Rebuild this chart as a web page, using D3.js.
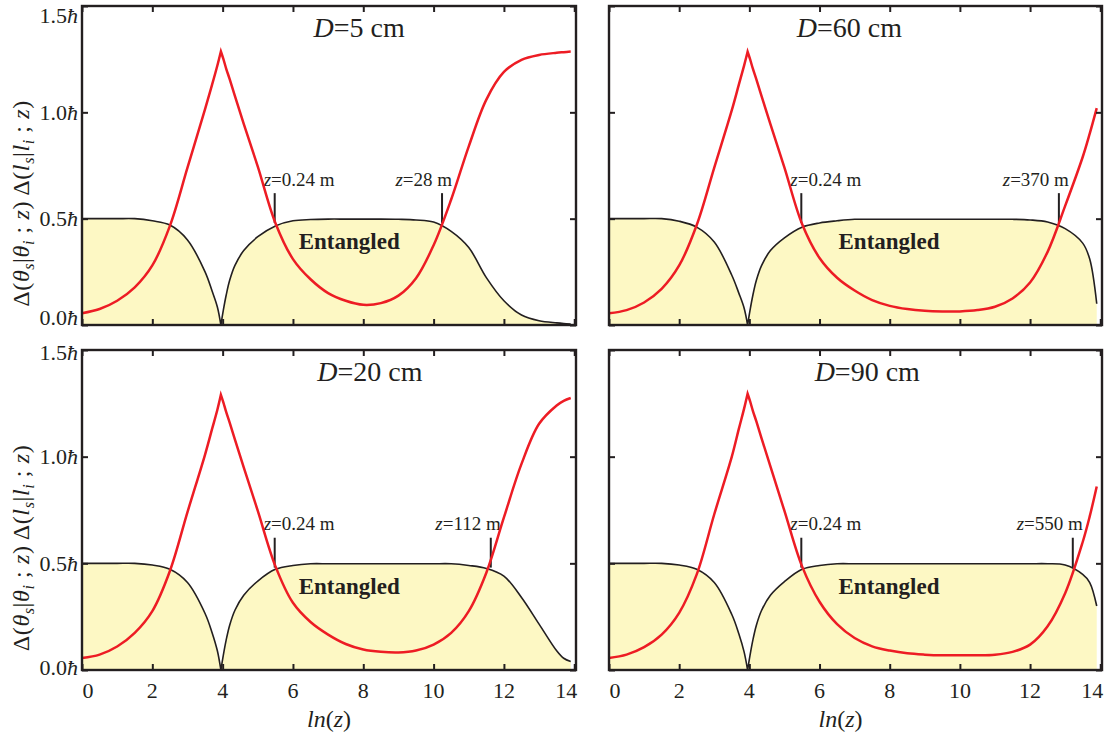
<!DOCTYPE html>
<html>
<head>
<meta charset="utf-8">
<script src="https://cdn.jsdelivr.net/npm/d3@7"></script>
<style>
  body { margin: 0; background: #fff; }
</style>
</head>
<body>
<div class="canvas"></div>
<script>
const svgWidth = 1107;
const svgHeight = 738;

// sample points along ln(z) (z in mm); 3.95 is the cusp
const lnz = [0, 0.5, 1, 1.5, 2, 2.5, 3, 3.5, 3.7, 3.85, 3.95, 4.02, 4.1, 4.2, 4.35, 4.6,
  5, 5.5, 6, 6.5, 7, 7.5, 8, 8.5, 9, 9.5, 10, 10.5, 11, 11.5, 12, 12.5, 13, 13.5, 13.7, 13.9];

// red: Delta(theta_s|theta_i; z), black (filled): Delta(l_s|l_i; z)
const red5 = [0.055, 0.075, 0.114, 0.177, 0.28, 0.466, 0.74, 1.015, 1.13, 1.22, 1.286,
  1.251, 1.206, 1.156, 1.076, 0.946,
  0.745, 0.48, 0.31, 0.215, 0.15, 0.114, 0.095, 0.103, 0.138, 0.22, 0.375, 0.59, 0.84, 1.06,
  1.19, 1.247, 1.27, 1.28, 1.283, 1.286];
const black5 = [0.5, 0.5, 0.5, 0.5, 0.49, 0.47, 0.40, 0.25, 0.16, 0.085, 0,
  0.07, 0.14, 0.21, 0.28, 0.35,
  0.415, 0.466, 0.49, 0.496, 0.498, 0.498, 0.498, 0.498, 0.497, 0.494, 0.484, 0.44, 0.364, 0.223,
  0.114, 0.047, 0.02, 0.01, 0.007, 0.005];

const red60 = [0.055, 0.07, 0.106, 0.17, 0.28, 0.47, 0.74, 1.01, 1.13, 1.22, 1.285,
  1.25, 1.205, 1.155, 1.075, 0.945,
  0.74, 0.476, 0.315, 0.222, 0.162, 0.117, 0.09, 0.075, 0.067, 0.064, 0.064, 0.07, 0.086, 0.125,
  0.2, 0.344, 0.56, 0.79, 0.9, 1.02];
const black60 = [0.5, 0.5, 0.5, 0.5, 0.488, 0.46, 0.39, 0.234, 0.15, 0.08, 0,
  0.07, 0.14, 0.21, 0.28, 0.35,
  0.41, 0.46, 0.48, 0.49, 0.497, 0.497, 0.497, 0.497, 0.497, 0.497, 0.497, 0.497, 0.497, 0.497,
  0.494, 0.484, 0.453, 0.385, 0.31, 0.1];

const red20 = [0.056, 0.072, 0.11, 0.174, 0.276, 0.464, 0.74, 1.01, 1.13, 1.22, 1.29,
  1.255, 1.21, 1.16, 1.08, 0.95,
  0.746, 0.487, 0.315, 0.225, 0.166, 0.122, 0.096, 0.085, 0.082, 0.091, 0.119, 0.174, 0.276, 0.456,
  0.715, 0.966, 1.154, 1.24, 1.262, 1.275];
const black20 = [0.5, 0.5, 0.5, 0.5, 0.492, 0.472, 0.41, 0.265, 0.175, 0.09, 0,
  0.07, 0.14, 0.21, 0.28, 0.35,
  0.417, 0.472, 0.49, 0.498, 0.498, 0.498, 0.498, 0.498, 0.498, 0.498, 0.498, 0.498, 0.49, 0.476,
  0.44, 0.34, 0.215, 0.09, 0.055, 0.04];

const red90 = [0.056, 0.072, 0.107, 0.166, 0.268, 0.448, 0.73, 1.0, 1.13, 1.225, 1.295,
  1.26, 1.215, 1.165, 1.085, 0.955,
  0.746, 0.487, 0.32, 0.215, 0.15, 0.111, 0.091, 0.078, 0.072, 0.069, 0.069, 0.069, 0.072, 0.085,
  0.119, 0.205, 0.36, 0.6, 0.72, 0.86];
const black90 = [0.5, 0.5, 0.5, 0.5, 0.492, 0.472, 0.41, 0.26, 0.17, 0.085, 0,
  0.07, 0.14, 0.21, 0.28, 0.35,
  0.414, 0.472, 0.49, 0.498, 0.498, 0.498, 0.498, 0.498, 0.498, 0.498, 0.498, 0.498, 0.498, 0.498,
  0.498, 0.498, 0.492, 0.448, 0.41, 0.3];

const diameters = ['5', '60', '20', '90'];      // D in cm
const leftMark = 0.24;                          // z in m
const rightMarks = [28, 370, 112, 550];         // z in m

const xTicks = [0, 2, 4, 6, 8, 10, 12, 14];
const yTicks = [0, 0.5, 1.0, 1.5];
const yTickLabels = ['0.0', '0.5', '1.0', '1.5'];

const xDomain = [0, 14.05];
const yDomain = [0, 1.5];

const fillColor = '#fdf8c4';
const redColor = '#ed1c24';
const inkColor = '#231f20';

const panels = [
  { left: 82, top: 6, right: 576, bottom: 325, red: red5, black: black5, titleAt: 7.88, entAt: 7.6, yLabels: true, xLabels: false, shiftHi: 9, shiftLo: -8 },
  { left: 609, top: 6, right: 1102, bottom: 325, red: red60, black: black60, titleAt: 6.85, entAt: 7.98, yLabels: false, xLabels: false },
  { left: 82, top: 350, right: 576, bottom: 670, red: red20, black: black20, titleAt: 8.19, entAt: 7.6, yLabels: true, xLabels: true, shiftHi: 2, shiftLo: -3 },
  { left: 609, top: 350, right: 1102, bottom: 670, red: red90, black: black90, titleAt: 7.36, entAt: 7.98, yLabels: false, xLabels: true }
];

const svg = d3.select('.canvas')
  .append('svg')
    .attr('width', svgWidth)
    .attr('height', svgHeight)
    .style('font-family', "'Liberation Serif', 'Times New Roman', serif")
    .style('fill', inkColor);

const cusp = lnz.indexOf(3.95);
const smooth = d3.curveCatmullRom.alpha(0.5);

panels.forEach((p, k) => {
  const x = d3.scaleLinear().domain(xDomain).range([p.left, p.right]);
  const y = d3.scaleLinear().domain(yDomain).range([p.bottom, p.top]);
  const g = svg.append('g');

  const blackPts = lnz.map((v, i) => [v, p.black[i]]);
  const redPts = lnz.map((v, i) => [v, p.red[i]]);
  const pieces = pts => [pts.slice(0, cusp + 1), pts.slice(cusp)];

  const area = d3.area()
    .x(d => x(d[0]))
    .y0(y(0))
    .y1(d => y(d[1]))
    .curve(smooth);
  const line = d3.line()
    .x(d => x(d[0]))
    .y(d => y(d[1]))
    .curve(smooth);
  // join the two branches so the cusp stays sharp
  const cuspLine = pts => {
    const [a, b] = pieces(pts);
    return line(a) + line(b).replace(/^M/, 'L');
  };

  // filled region under the black curve
  g.selectAll('path.fill')
    .data(pieces(blackPts))
    .enter()
    .append('path')
      .attr('class', 'fill')
      .attr('d', area)
      .attr('fill', fillColor);

  g.append('path')
    .attr('d', cuspLine(blackPts))
    .attr('fill', 'none')
    .attr('stroke', inkColor)
    .attr('stroke-width', 1.6);

  // marker lines and their labels
  const marks = [leftMark, rightMarks[k]];
  marks.forEach((m, j) => {
    const lx = x(Math.log(m * 1000));
    g.append('line')
      .attr('x1', lx).attr('x2', lx)
      .attr('y1', y(0.48)).attr('y2', y(0.62))
      .attr('stroke', inkColor)
      .attr('stroke-width', 2);
    const t = g.append('text')
      .attr('x', j === 0 ? lx - 11 : lx + 10)
      .attr('y', y(0.655))
      .attr('text-anchor', j === 0 ? 'start' : 'end')
      .attr('font-size', 19);
    t.append('tspan').attr('font-style', 'italic').text('z');
    t.append('tspan').text('=' + m + ' m');
  });

  g.append('path')
    .attr('d', cuspLine(redPts))
    .attr('fill', 'none')
    .attr('stroke', redColor)
    .attr('stroke-width', 2.5)
    .attr('stroke-linejoin', 'miter');

  // "Entangled"
  g.append('text')
    .attr('x', x(p.entAt))
    .attr('y', y(0.357))
    .attr('text-anchor', 'middle')
    .attr('font-size', 23)
    .attr('font-weight', 'bold')
    .text('Entangled');

  // panel title
  const title = g.append('text')
    .attr('x', x(p.titleAt))
    .attr('y', y(1.355))
    .attr('text-anchor', 'middle')
    .attr('font-size', 28);
  title.append('tspan').attr('font-style', 'italic').text('D');
  title.append('tspan').text('=' + diameters[k] + ' cm');

  // inward ticks on all four sides
  const tick = 6;
  const axes = [
    [d3.axisBottom(x).tickValues(xTicks), `translate(0,${p.bottom})`],
    [d3.axisTop(x).tickValues(xTicks), `translate(0,${p.top})`],
    [d3.axisLeft(y).tickValues(yTicks), `translate(${p.left},0)`],
    [d3.axisRight(y).tickValues(yTicks), `translate(${p.right},0)`]
  ];
  axes.forEach(([ax, tr]) => {
    g.append('g')
      .attr('transform', tr)
      .call(ax.tickSize(-tick).tickFormat(''))
      .call(s => s.select('.domain').remove())
      .call(s => s.selectAll('line').attr('stroke', inkColor).attr('stroke-width', 2));
  });

  // frame
  g.append('rect')
    .attr('x', p.left).attr('y', p.top)
    .attr('width', p.right - p.left)
    .attr('height', p.bottom - p.top)
    .attr('fill', 'none')
    .attr('stroke', inkColor)
    .attr('stroke-width', 2.4);

  if (p.yLabels) {
    yTicks.forEach((v, i) => {
      let cy = y(v);
      if (i === yTicks.length - 1) cy += p.shiftHi;
      if (i === 0) cy += p.shiftLo;
      const t = g.append('text')
        .attr('x', p.left - 4)
        .attr('y', cy + 7.5)
        .attr('text-anchor', 'end')
        .attr('font-size', 22);
      t.append('tspan').text(yTickLabels[i]);
      t.append('tspan').attr('font-style', 'italic').text('\u0127');
    });

    // rotated y-axis title
    const cy = (p.top + p.bottom) / 2 + 38;
    const yt = g.append('text')
      .attr('transform', `translate(29,${cy}) rotate(-90)`)
      .attr('text-anchor', 'middle')
      .attr('font-size', 24)
      .attr('letter-spacing', 0.6);
    const part = (txt, italic, sub) => {
      const s = yt.append('tspan').text(txt);
      if (italic) s.attr('font-style', 'italic');
      if (sub) s.attr('font-size', 16).attr('dy', 5);
      return s;
    };
    const up = () => yt.selectAll('tspan').filter((d, i, n) => i === n.length - 1).attr('dy', -5);
    part('\u0394(', false); part('\u03b8', true); part('s', true, true);
    part('|', false); up(); part('\u03b8', true); part('i', true, true);
    part(' ; ', false); up(); part('z', true); part(') \u0394(', false);
    part('l', true); part('s', true, true);
    part('|', false); up(); part('l', true); part('i', true, true);
    part(' ; ', false); up(); part('z', true); part(')', false);
  }

  if (p.xLabels) {
    xTicks.forEach((v, i) => {
      let cx = x(v);
      if (i === 0) cx += 6;
      if (i === xTicks.length - 1) cx -= 8;
      g.append('text')
        .attr('x', cx)
        .attr('y', p.bottom + 28)
        .attr('text-anchor', 'middle')
        .attr('font-size', 22)
        .text(v);
    });
    const xt = g.append('text')
      .attr('x', (p.left + p.right) / 2 - (k === 3 ? 15 : 0))
      .attr('y', 727)
      .attr('text-anchor', 'middle')
      .attr('font-size', 24);
    xt.append('tspan').attr('font-style', 'italic').text('ln');
    xt.append('tspan').text('(');
    xt.append('tspan').attr('font-style', 'italic').text('z');
    xt.append('tspan').text(')');
  }
});
</script>
</body>
</html>
